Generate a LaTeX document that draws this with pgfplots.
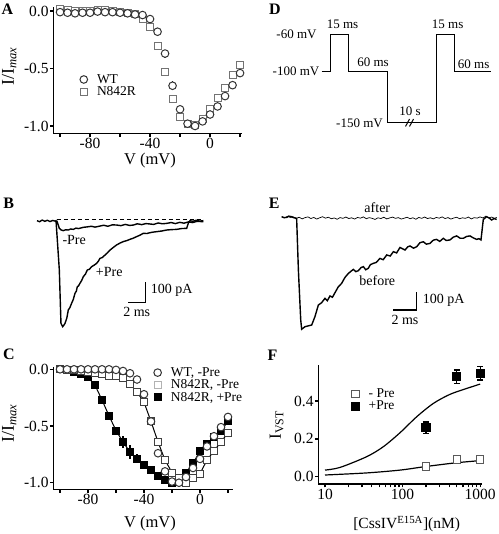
\documentclass[border=0pt]{standalone}
\usepackage{pgfplots}
\pgfplotsset{compat=1.18}
\usepackage{fontspec}
\setmainfont{Liberation Serif}
\newcommand{\fs}[1]{\fontsize{#1}{#1}\selectfont}
\pgfplotsset{
  panel/.style={scale only axis, anchor=south west, clip=false,
    axis lines*=left, axis line style={line width=1.2pt,-},
    tick align=outside, major tick length=3.5pt, minor tick length=3.5pt,
    tick style={black, line width=1.2pt},
    tick label style={font=\fs{15.5}},
    yticklabel style={inner sep=1pt},
    xticklabel style={inner sep=1.5pt},
    legend style={draw=none, fill=none, font=\fs{13.5}, inner sep=0pt, nodes={inner sep=1pt}},
    legend cell align=left,
    legend image code/.code={\path (-4pt,0pt) (12pt,0pt); \draw[mark repeat=2,mark phase=2] plot coordinates {(-4pt,0pt)(0pt,0pt)(4pt,0pt)};},
  },
  trace/.style={scale only axis, anchor=south west, clip=false, hide axis},
  circ/.style={only marks, mark=*, mark size=3.8pt, mark options={line width=1pt, draw=#1, fill=white}},
  circ/.default=black!80,
  sqo/.style={only marks, mark=square*, mark size=3.5pt, mark options={line width=1pt, draw=#1, fill=white}},
  sqo/.default=black!60,
  sqf/.style={only marks, mark=square*, mark size=3.5pt, mark options={line width=1pt, draw=black, fill=black}},
  ebar/.style={only marks, mark=none, error bars/y dir=both, error bars/y explicit,
    error bars/error bar style={line width=1.2pt, black}, error bars/error mark=none},
  ebarcap/.style={only marks, mark=none, error bars/y dir=both, error bars/y explicit,
    error bars/error bar style={line width=1.2pt, black}, error bars/error mark options={rotate=90, mark size=3pt, line width=1.2pt, black}},
}
\begin{document}
\begin{tikzpicture}
\useasboundingbox (0pt,0pt) rectangle (498pt,534pt);

% ---------------- Panel A ----------------
\begin{axis}[panel, at={(53.3pt,400.7pt)}, width=188.4pt, height=126.3pt,
  xmin=-104.5, xmax=21.1, ymin=-1.0635, ymax=0.035,
  xtick={-80,-40,0}, xticklabels={-80,-40,0}, minor xtick={-100,-60,-20,20},
  ytick={-1,-0.5,0}, yticklabels={-1.0,-0.5,0.0},
  legend style={at={(axis cs:-87.1,-0.54)}, anchor=north west}]
\addplot[ebar, forget plot] coordinates {(-30,-0.37) +- (0,0.035) (-25,-0.65) +- (0,0.04)};
\addplot[sqo=black!55, forget plot] coordinates {(-100,0.015)(-95,0.01)(-90,0.0)(-85,0.0)(-80,0.0)(-75,0.01)(-70,0.005)(-65,0.0)(-60,-0.01)(-55,-0.02)(-50,-0.03)(-45,-0.07)(-40,-0.14)(-35,-0.30)(-30,-0.53)(-25,-0.765)(-20,-0.92)(-15,-0.985)(-10,-0.99)(-5,-0.94)(0,-0.85)(5,-0.76)(10,-0.67)(15,-0.56)(20,-0.47)};
\addplot[circ, forget plot] coordinates {(-100,-0.01)(-95,-0.015)(-90,-0.02)(-85,-0.015)(-80,-0.015)(-75,-0.005)(-70,-0.01)(-65,-0.01)(-60,-0.015)(-55,-0.02)(-50,-0.03)(-45,-0.035)(-40,-0.07)(-35,-0.18)(-30,-0.37)(-25,-0.65)(-20,-0.855)(-15,-0.98)(-10,-1.0)(-5,-0.96)(0,-0.90)(5,-0.83)(10,-0.74)(15,-0.645)(20,-0.54)};
\addlegendimage{circ}
\addlegendentry{WT}
\addlegendimage{sqo=black!55}
\addlegendentry{N842R}
\end{axis}

% ---------------- Panel C ----------------
\begin{axis}[panel, at={(53.3pt,44.7pt)}, width=180pt, height=122.6pt,
  xmin=-104.8, xmax=23.8, ymin=-1.058, ymax=0.023,
  xtick={-80,-40,0}, xticklabels={-80,-40,0}, minor xtick={-100,-60,-20,20},
  ytick={-1,-0.5,0}, yticklabels={-1.0,-0.5,0.0},
  legend style={at={(axis cs:-33.4,0.027)}, anchor=north west}]
\addlegendimage{circ}
\addlegendentry{WT, -Pre}
\addlegendimage{sqo=black!30}
\addlegendentry{N842R, -Pre}
\addlegendimage{sqf}
\addlegendentry{N842R, +Pre}
\addplot[ebar, forget plot] coordinates {(-60,-0.54) +- (0,0.03) (-55,-0.64) +- (0,0.05) (-50,-0.73) +- (0,0.06) (-45,-0.79) +- (0,0.04) (-40,-0.84) +- (0,0.03)};
\addplot[line width=1pt, black, forget plot] coordinates {(-100,0)(-95,-0.01)(-90,-0.02)(-85,-0.04)(-80,-0.07)(-75,-0.14)(-70,-0.27)(-65,-0.41)(-60,-0.54)(-55,-0.64)(-50,-0.73)(-45,-0.79)(-40,-0.84)(-35,-0.89)(-30,-0.94)(-25,-0.98)(-20,-1.0)(-15,-0.97)(-10,-0.91)(-5,-0.83)(0,-0.72)(5,-0.66)(10,-0.60)(15,-0.54)(20,-0.46)};
\addplot[line width=1pt, black, forget plot] coordinates {(-100,0)(-95,-0.005)(-90,-0.01)(-85,-0.015)(-80,-0.02)(-75,-0.03)(-70,-0.04)(-65,-0.055)(-60,-0.06)(-55,-0.08)(-50,-0.13)(-45,-0.20)(-40,-0.29)(-35,-0.46)(-30,-0.64)(-25,-0.80)(-20,-0.91)(-15,-0.96)(-10,-1.0)(-5,-0.96)(0,-0.92)(5,-0.80)(10,-0.72)(15,-0.64)(20,-0.56)};
\addplot[sqf, forget plot] coordinates {(-100,0)(-95,-0.01)(-90,-0.02)(-85,-0.04)(-80,-0.07)(-75,-0.14)(-70,-0.27)(-65,-0.41)(-60,-0.54)(-55,-0.64)(-50,-0.73)(-45,-0.79)(-40,-0.84)(-35,-0.89)(-30,-0.94)(-25,-0.98)(-20,-1.0)(-15,-0.97)(-10,-0.91)(-5,-0.83)(0,-0.72)(5,-0.66)(10,-0.60)(15,-0.54)(20,-0.46)};
\addplot[sqo=black!75, forget plot] coordinates {(-100,0)(-95,-0.005)(-90,-0.01)(-85,-0.015)(-80,-0.02)(-75,-0.03)(-70,-0.04)(-65,-0.055)(-60,-0.06)(-55,-0.08)(-50,-0.13)(-45,-0.20)(-40,-0.29)(-35,-0.46)(-30,-0.64)(-25,-0.80)(-20,-0.91)(-15,-0.96)(-10,-1.0)(-5,-0.96)(0,-0.92)(5,-0.80)(10,-0.72)(15,-0.64)(20,-0.56)};
\addplot[circ, forget plot] coordinates {(-100,0)(-95,0)(-90,0)(-85,0)(-80,0)(-75,0)(-70,0)(-65,0)(-60,-0.005)(-55,-0.015)(-50,-0.035)(-45,-0.09)(-40,-0.22)(-35,-0.46)(-30,-0.74)(-25,-0.90)(-20,-0.99)(-15,-1.0)(-10,-0.95)(-5,-0.87)(0,-0.79)(5,-0.68)(10,-0.59)(15,-0.51)(20,-0.42)};
\end{axis}

% ---------------- Panel F ----------------
\begin{axis}[panel, xmode=log, at={(318.3pt,50pt)}, width=163.4pt, height=119pt,
  xmin=8.196, xmax=1048, ymin=-0.0386, ymax=0.591,
  xtick={10,100,1000}, xticklabels={10,100,1000}, minor xtick={},
  ytick={0,0.2,0.4}, yticklabels={0.0,0.2,0.4},
  legend style={at={(axis cs:21.66,0.472)}, anchor=north west}]
\addplot[smooth, line width=1.2pt, black, forget plot] coordinates {(10,0.035)(15.6,0.049)(34.5,0.106)(56.6,0.159)(92.9,0.233)(152,0.317)(250,0.388)(410,0.436)(673,0.467)(1000,0.49)};
\addplot[smooth, line width=1.2pt, black, forget plot] coordinates {(10,0.009)(34.5,0.02)(93,0.035)(200,0.054)(500,0.074)(1000,0.085)};
\addplot[ebarcap, forget plot] coordinates {(200,0.259) +- (0,0.03) (500,0.529) +- (0,0.035) (1000,0.547) +- (0,0.035)};
\addplot[sqo=black!65, mark size=3.7pt] coordinates {(200,0.053)(500,0.09)(1000,0.09)};
\addplot[sqf, mark size=4.1pt] coordinates {(200,0.259)(500,0.529)(1000,0.547)};
\legend{- Pre,+Pre}
\end{axis}

% ---------------- Panel B ----------------
\begin{axis}[trace, at={(30pt,199pt)}, width=180pt, height=130pt,
  xmin=-0.809, xmax=20.0, ymin=-552.2, ymax=75.8]
\addplot[line width=1pt, black, dash pattern=on 4pt off 3pt] coordinates {(2.3,4)(19.2,4)};
\addplot[line width=1.4pt, black] coordinates {(2.28,0)(2.45,-20)(2.58,-37)(2.8,-45)(3.04,-48)(3.3,-44)(3.62,-45)(3.9,-40)(4.2,-42)(4.5,-36)(4.8,-38)(5.36,-32)(5.8,-30)(6.3,-27)(6.7,-31)(7.28,-26)(7.7,-22)(8.2,-27)(8.7,-20)(9.21,-21)(9.7,-24)(10.2,-18)(10.7,-23)(11.14,-21)(11.6,-15)(12.1,-19)(12.6,-14)(13.06,-16)(13.5,-18)(14.0,-11)(14.5,-15)(14.99,-13)(15.5,-9)(16.0,-14)(16.5,-8)(17.0,-12)(17.5,-6)(18.0,-9)(18.5,-3)(19.23,-5)};
\addplot[line width=1.4pt, black] coordinates {(0,0)(0.3,-5)(0.6,3)(0.9,-3)(1.2,2)(1.5,-4)(1.8,1)(2.1,-2)(2.2,0)(2.58,-238)(2.77,-496)(2.97,-512)(3.1,-505)(3.24,-496)(3.45,-470)(3.62,-431)(3.8,-420)(4.0,-399)(4.2,-380)(4.39,-351)(4.55,-340)(4.66,-319)(4.8,-315)(4.97,-302)(5.15,-290)(5.36,-270)(5.6,-258)(5.82,-238)(6.05,-235)(6.32,-222)(6.6,-215)(6.9,-206)(7.1,-195)(7.28,-182)(7.55,-178)(7.86,-166)(8.15,-155)(8.44,-142)(8.8,-130)(9.21,-117)(9.6,-108)(9.98,-101)(10.4,-96)(10.75,-90)(11.1,-85)(11.52,-77)(11.9,-70)(12.29,-61)(12.7,-62)(13.06,-58)(13.45,-55)(13.83,-53)(14.4,-50)(14.99,-45)(15.6,-43)(16.15,-42)(16.7,-38)(17.3,-37)(17.53,-8)(17.69,0)(18.0,-3)(18.4,2)(18.8,-2)(19.23,0)};
\addplot[line width=1.2pt, black] coordinates {(10.57,-394.7)(12.57,-394.7)(12.57,-294.7)};
\end{axis}

% ---------------- Panel E ----------------
\begin{axis}[trace, at={(275pt,199pt)}, width=223pt, height=135pt,
  xmin=-0.574, xmax=18.54, ymin=-646.4, ymax=91.3]
\addplot[line width=0.7pt, black] coordinates {(0,0)(0.25,-6)(0.5,2)(0.75,-4)(1.0,-1)(1.25,-9)(1.5,-3)(1.75,-12)(2.0,-5)(2.25,-1)(2.5,-10)(2.75,-4)(3.0,-13)(3.25,-6)(3.5,0)(3.75,-8)(4.0,-3)(4.25,-11)(4.5,-7)(4.75,-14)(5.0,-5)(5.25,-9)(5.5,-2)(5.75,-10)(6.0,-6)(6.25,-13)(6.5,-4)(6.75,-8)(7.0,-1)(7.25,-11)(7.5,-5)(7.75,-9)(8.0,-15)(8.25,-6)(8.5,-10)(8.75,-3)(9.0,-12)(9.25,-7)(9.5,-2)(9.75,-9)(10.0,-5)(10.25,-13)(10.5,-8)(10.75,-3)(11.0,-11)(11.25,-6)(11.5,-14)(11.75,-4)(12.0,-9)(12.25,-2)(12.5,-10)(12.75,-6)(13.0,-12)(13.25,-4)(13.5,-8)(13.75,-1)(14.0,-10)(14.25,-5)(14.5,-13)(14.75,-7)(15.0,-3)(15.25,-11)(15.5,-6)(15.75,-9)(16.0,-2)(16.25,-12)(16.5,-5)(16.75,-8)(17.0,-1)(17.25,-7)(17.5,3)(17.75,-6)(18.0,-2)(18.25,-9)(18.42,-4)};
\addplot[line width=1.4pt, black] coordinates {(0,0)(0.2,-5)(0.43,-4)(0.6,3)(0.85,0)(1.05,-6)(1.28,-9)(1.43,-291)(1.63,-564)(1.71,-615)(2.0,-601)(2.3,-596)(2.57,-592)(2.85,-546)(3.14,-483)(3.42,-470)(3.71,-446)(3.91,-459)(4.14,-433)(4.35,-440)(4.57,-415)(4.85,-383)(5.14,-364)(5.42,-332)(5.71,-310)(5.9,-300)(6.14,-288)(6.35,-300)(6.57,-295)(6.8,-278)(7.0,-273)(7.2,-290)(7.42,-282)(7.6,-262)(7.85,-255)(8.1,-250)(8.42,-228)(8.7,-235)(9.0,-209)(9.3,-215)(9.57,-191)(9.85,-198)(10.14,-168)(10.35,-175)(10.57,-182)(10.8,-165)(11.0,-160)(11.3,-172)(11.57,-164)(11.85,-142)(12.14,-137)(12.4,-150)(12.71,-146)(13.0,-128)(13.28,-124)(13.55,-135)(13.85,-118)(14.1,-130)(14.42,-127)(14.7,-112)(15.0,-105)(15.3,-118)(15.57,-118)(15.85,-108)(16.14,-105)(16.4,-115)(16.71,-124)(16.9,-120)(17.08,-127)(17.28,-15)(17.56,0)(17.8,-8)(17.99,-18)(18.2,-10)(18.42,-15)};
\addplot[line width=1.2pt, black] coordinates {(9.57,-509.8)(11.57,-509.8)(11.57,-409.8)};
\end{axis}

% ---------------- Panel D ----------------
\begin{axis}[trace, at={(250pt,364pt)}, width=248pt, height=170pt,
  xmin=250, xmax=498, ymin=0, ymax=170, y dir=reverse]
\addplot[line width=1.3pt, black] coordinates {(321.7,71.7)(330.7,71.7)(330.7,34.3)(348.3,34.3)(348.3,71.7)(387.3,71.7)(387.3,122.7)(436.7,122.7)(436.7,34.3)(454.3,34.3)(454.3,71.7)(490.7,71.7)};
\addplot[line width=1pt, black] coordinates {(405.5,126.5)(409.5,119)};
\addplot[line width=1pt, black] coordinates {(409.5,126.5)(413.5,119)};
\end{axis}

% ---------------- texts ----------------
\begin{scope}[x=1pt, y=1pt, every node/.style={inner sep=0pt}]
\node[font=\fs{16}\bfseries] at (7.5,524.5) {A};
\node[font=\fs{16}\bfseries] at (275,524.5) {D};
\node[font=\fs{16}\bfseries] at (8.8,331.2) {B};
\node[font=\fs{16}\bfseries] at (274.3,331.2) {E};
\node[font=\fs{16}\bfseries] at (8.8,180.2) {C};
\node[font=\fs{16}\bfseries] at (272.5,178.7) {F};

\node[font=\fs{18}, rotate=90] at (9.2,467.3) {I/I\textsubscript{\itshape max}};
\node[font=\fs{16.5}] at (150,373.5) {V (mV)};
\node[font=\fs{18}, rotate=90] at (9.2,110.7) {I/I\textsubscript{\itshape max}};
\node[font=\fs{16.5}] at (150,10) {V (mV)};
\node[font=\fs{17}, rotate=90] at (276.7,109) {I\textsubscript{VST}};
\node[font=\fs{15.5}] at (406.7,10) {[CssIV\textsuperscript{E15A}](nM)};

\node[font=\fs{14}] at (74.2,294) {-Pre};
\node[font=\fs{14}] at (109.2,262.3) {+Pre};
\node[font=\fs{14}, anchor=west] at (150.7,244) {100 pA};
\node[font=\fs{14}] at (136.7,222.3) {2 ms};

\node[font=\fs{14}] at (377.3,326.7) {after};
\node[font=\fs{14}] at (377.3,253.3) {before};
\node[font=\fs{14}, anchor=west] at (422.7,234) {100 pA};
\node[font=\fs{14}] at (405,214) {2 ms};

\node[font=\fs{13}, anchor=east] at (316.7,499.7) {-60 mV};
\node[font=\fs{13}, anchor=east] at (319.5,462.3) {-100 mV};
\node[font=\fs{13}, anchor=east] at (383,410.7) {-150 mV};
\node[font=\fs{13}] at (342.5,510) {15 ms};
\node[font=\fs{13}] at (373,471.7) {60 ms};
\node[font=\fs{13}] at (410,423) {10 s};
\node[font=\fs{13}] at (447.7,510) {15 ms};
\node[font=\fs{13}] at (473.7,470) {60 ms};
\end{scope}
\end{tikzpicture}
\end{document}
